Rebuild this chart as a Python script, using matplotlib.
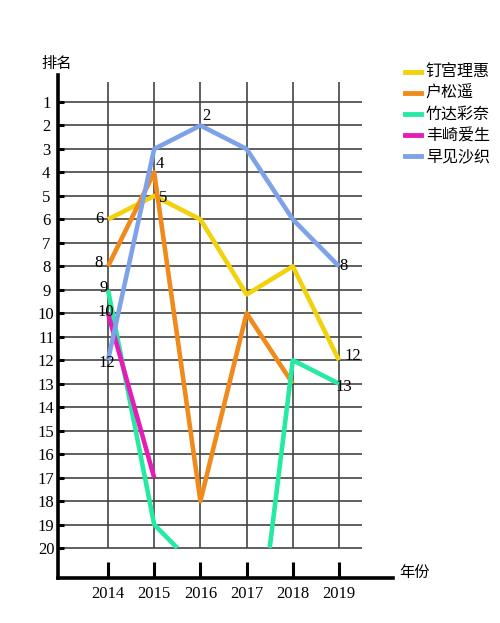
import numpy as np
import matplotlib
matplotlib.use("Agg")
import matplotlib.pyplot as plt

# ranking of five voice actresses by year (lower = better)
names = ["钉宫理惠", "户松遥", "竹达彩奈", "丰崎爱生", "早见沙织"]
colors = ["#f2d20c", "#f08a1c", "#26eaa2", "#e61cb8", "#7ea2e8"]

kugimiya_years = [2014, 2015, 2016, 2017, 2018, 2019]
kugimiya_rank = [6, 5, 6, 9.2, 8, 12]

tomatsu_years = [2014, 2015, 2016, 2017, 2018]
tomatsu_rank = [8, 4, 18, 10, 13]

# the line leaves the chart after 2015 and comes back before 2018
taketatsu_years = [2014, 2015, 2015.5, np.nan, 2017.5, 2018, 2019]
taketatsu_rank = [9, 19, 20, np.nan, 20, 12, 13]

toyosaki_years = [2014, 2015]
toyosaki_rank = [10, 17]

hayami_years = [2014, 2015, 2016, 2017, 2018, 2019]
hayami_rank = [12, 3, 2, 3, 6, 8]

years = [2014, 2015, 2016, 2017, 2018, 2019]
ranks = list(range(1, 21))

series = [
    (kugimiya_years, kugimiya_rank),
    (tomatsu_years, tomatsu_rank),
    (taketatsu_years, taketatsu_rank),
    (toyosaki_years, toyosaki_rank),
    (hayami_years, hayami_rank),
]

# point labels: (series index, point index, text, dx px, dy px)
point_labels = [
    (0, 0, "6", -9, 0),
    (1, 0, "8", -9, 3),
    (2, 0, "9", -4, 2),
    (3, 0, "10", -2, 1),
    (4, 0, "12", -1, -3),
    (1, 1, "4", 6, 8),
    (0, 1, "5", 9, -2),
    (4, 2, "2", 6, 9),
    (4, 5, "8", 5, 0),
    (0, 5, "12", 14, 4),
    (2, 6, "13", 5, -3),
]

SERIF = ["Liberation Serif", "DejaVu Serif"]
CJK = ["Noto Sans CJK SC", "DejaVu Sans"]

fig = plt.figure(figsize=(5.0, 6.23), dpi=100)
ax = fig.add_axes([0.116, 0.0722, 0.67, 0.8074])

ax.set_xlim(2012.918, 2020.169)
ax.set_ylim(21.278, -0.150)

# grid drawn by hand, it does not span the whole axes
ax.hlines(ranks, 2012.918, 2019.5, color="#444444", lw=1.2, zorder=1)
ax.vlines(years, 0.148, 20, color="#444444", lw=1.2, zorder=1)

for (xs, ys), c in zip(series, colors):
    ax.plot(xs, ys, color=c, lw=3.3, solid_joinstyle="round",
            solid_capstyle="butt", zorder=3)

for si, pi, txt, dx, dy in point_labels:
    xs, ys = series[si]
    ax.annotate(txt, (xs[pi], ys[pi]), xytext=(dx, dy),
                textcoords="offset pixels", ha="center", va="center",
                fontsize=12, family=SERIF, zorder=4)

for side in ["top", "right"]:
    ax.spines[side].set_visible(False)
for side in ["left", "bottom"]:
    ax.spines[side].set_linewidth(2.6)
    ax.spines[side].set_color("black")

ax.set_yticks(ranks)
ax.set_yticklabels([str(r) for r in ranks], family=SERIF, fontsize=12,
                   ha="center")
ax.tick_params(axis="y", direction="in", length=4, width=2.2, pad=8.5)

ax.set_xticks(years)
ax.set_xticklabels([str(y) for y in years], family=SERIF, fontsize=12)
ax.tick_params(axis="x", direction="in", length=11.5, width=2.2, pad=6)

fig.text(57 / 500, 1 - 63 / 623, "排名", family=CJK, fontsize=11,
         ha="center", va="center")
fig.text(414 / 500, 1 - 572 / 623, "年份", family=CJK, fontsize=11,
         ha="center", va="center")

handles = [plt.Line2D([], [], color=c, lw=3.5) for c in colors]
fig.legend(handles, names, loc="upper left", bbox_to_anchor=(0.81, 0.897),
           frameon=False, borderpad=0, borderaxespad=0, handlelength=1.0,
           handletextpad=0.3, labelspacing=0.25,
           prop={"family": CJK, "size": 11.5})

fig.savefig("out.png", dpi=100)
